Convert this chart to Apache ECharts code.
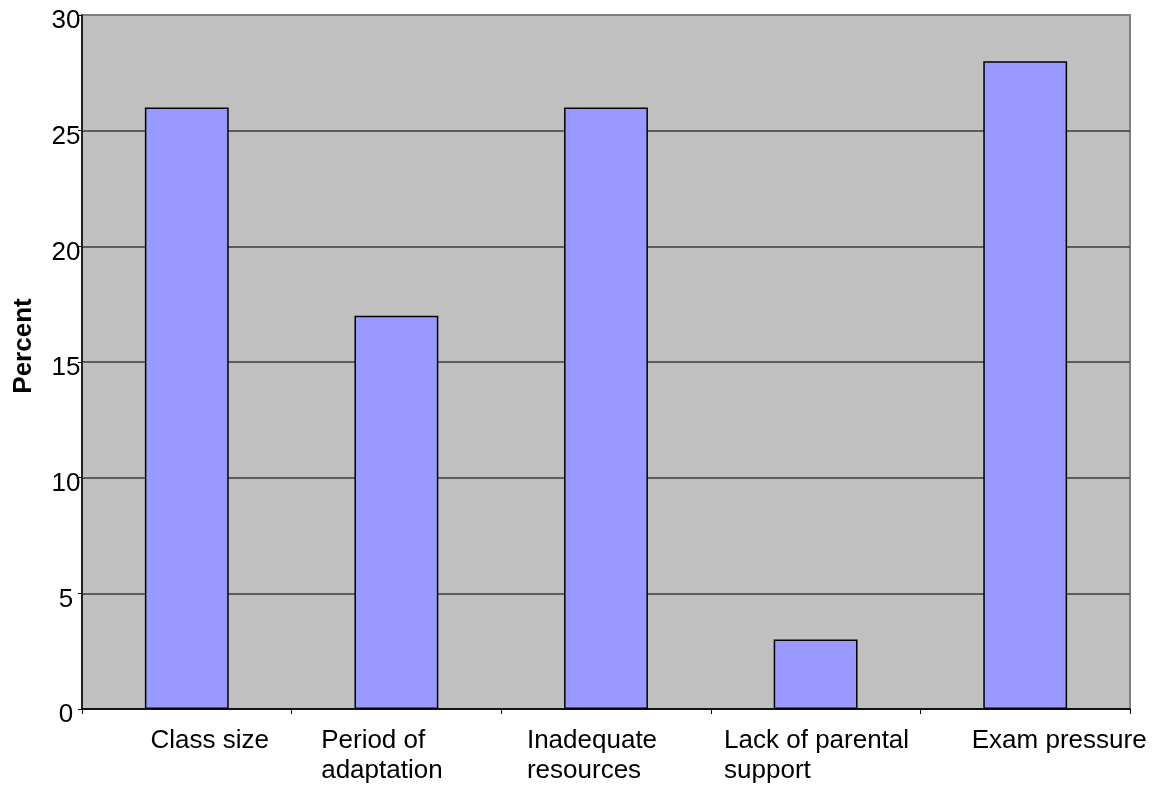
<!DOCTYPE html>
<html>
<head>
<meta charset="utf-8">
<script src="https://cdn.jsdelivr.net/npm/echarts@6/dist/echarts.min.js"></script>
<style>
html,body{margin:0;padding:0;background:#fff;}
#chart{width:1153px;height:788px;}
</style>
</head>
<body>
<div id="chart"></div>
<script>
// ---- data ----
const categories = ['Class size', 'Period of\nadaptation', 'Inadequate\nresources', 'Lack of parental\nsupport', 'Exam pressure'];
const percentValues = [26, 17, 26, 3, 28];
const yTicks = [0, 5, 10, 15, 20, 25, 30];
const yAxisTitle = 'Percent';

// ---- layout / styles ----
const FONT = "'Liberation Sans', Arial, sans-serif";
const labelPads = [[0,0,0,46],[0,29,0,0],[0,28,0,0],[0,0,0,2],[0,0,0,68]];
const rich = {};
labelPads.forEach((p, i) => {
  rich['c' + i] = { fontFamily: FONT, fontSize: 26, lineHeight: 30, color: '#000', align: 'left', padding: p };
});

const chart = echarts.init(document.getElementById('chart'), null, { renderer: 'canvas' });
chart.setOption({
  animation: false,
  backgroundColor: '#ffffff',
  grid: {
    left: 82, right: 23, top: 15, bottom: 79,
    show: true, backgroundColor: '#C0C0C0', borderColor: '#808080', borderWidth: 2
  },
  xAxis: {
    type: 'category',
    data: categories,
    axisLine: { show: true, lineStyle: { color: '#000', width: 1.5 } },
    axisTick: { show: true, interval: 0, length: 5, lineStyle: { color: '#000', width: 1 } },
    axisLabel: {
      interval: 0, margin: 17,
      fontFamily: FONT, fontSize: 26, lineHeight: 30, color: '#000',
      formatter: (v, i) => '{c' + i + '|' + v + '}',
      rich: rich
    },
    splitLine: { show: false }
  },
  yAxis: {
    type: 'value',
    min: yTicks[0], max: yTicks[yTicks.length - 1], interval: yTicks[1] - yTicks[0],
    name: yAxisTitle,
    nameLocation: 'middle',
    nameRotate: 90,
    nameGap: 45,
    nameTextStyle: { fontFamily: FONT, fontSize: 26, fontWeight: 'bold', color: '#000', padding: [0, 0, 0, 32] },
    axisLine: { show: true, lineStyle: { color: '#000', width: 1.5 } },
    axisTick: { show: true, length: 4, lineStyle: { color: '#000', width: 1 } },
    axisLabel: {
      margin: 16, align: 'center', verticalAlign: 'top', lineHeight: 12,
      fontFamily: FONT, fontSize: 26, color: '#000'
    },
    splitLine: { show: true, showMaxLine: false, lineStyle: { color: '#3c3c3c', width: 1.5 } }
  },
  series: [{
    type: 'bar',
    data: percentValues,
    barWidth: '40%',
    itemStyle: { color: '#9999FF', borderColor: '#000', borderWidth: 1.5 }
  }]
});
</script>
</body>
</html>
